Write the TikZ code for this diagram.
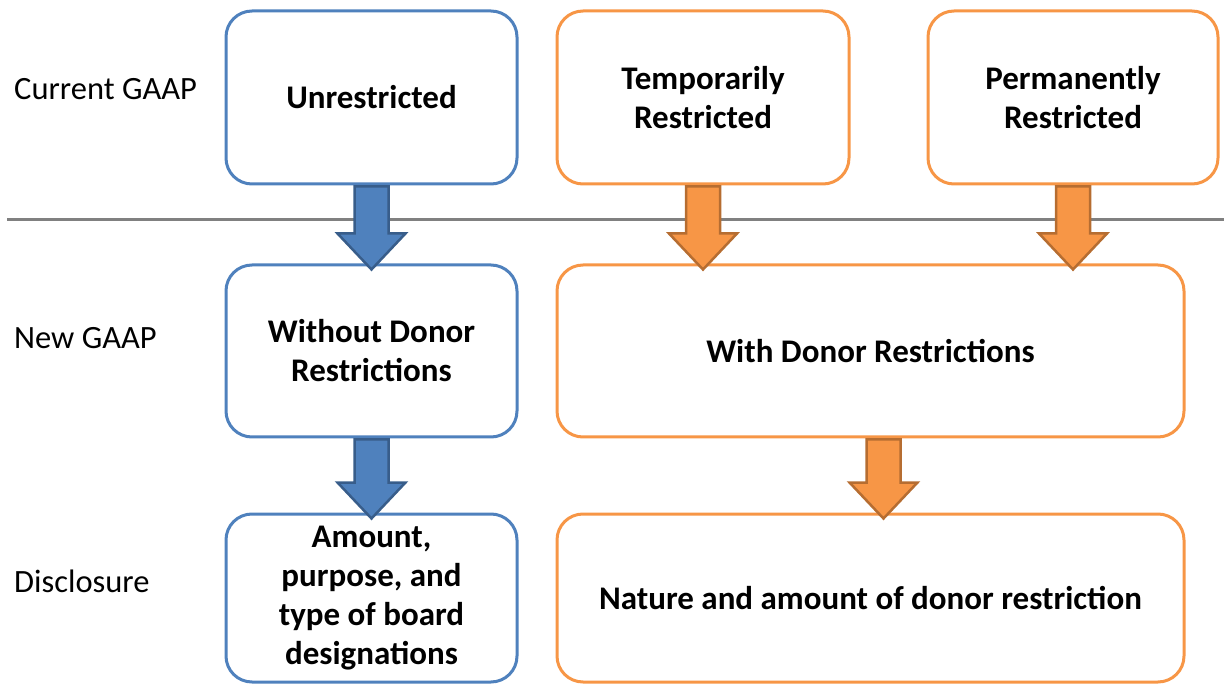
\documentclass[tikz,border=0pt]{standalone}
\usepackage{fontspec}
\setmainfont{Carlito}
\usetikzlibrary{calc}
\definecolor{bbord}{HTML}{4F81BD}
\definecolor{bfill}{HTML}{4F81BD}
\definecolor{bline}{HTML}{385D8A}
\definecolor{obord}{HTML}{F79646}
\definecolor{ofill}{HTML}{F79646}
\definecolor{oline}{HTML}{B66D31}
\tikzset{
  box/.style={draw, line width=3pt, rounded corners=26pt, fill=white, align=center,
    font=\fontsize{33}{39}\selectfont\bfseries, inner sep=0pt},
  bluebox/.style={box, draw=bbord},
  orangebox/.style={box, draw=obord},
  side/.style={anchor=west, font=\fontsize{32.5}{38}\selectfont, inner sep=0pt},
  barr/.style={fill=bfill, draw=bline, line width=2.5pt, line join=miter},
  oarr/.style={fill=ofill, draw=oline, line width=2.5pt, line join=miter}
}
% #1 style, #2 source node, #3 target node, #4 horizontal shift
\newcommand\barrow[4]{%
  \filldraw[#1] let \p1=($(#2.south)+(#4,0)$), \p2=(#3.north) in
    (\x1-17pt,\y1-1pt) -- (\x1+17pt,\y1-1pt) -- (\x1+17pt,\y2+30pt) -- (\x1+34pt,\y2+30pt)
    -- (\x1,\y2-6pt) -- (\x1-34pt,\y2+30pt) -- (\x1-17pt,\y2+30pt) -- cycle;}
\begin{document}
\begin{tikzpicture}[x=1pt,y=-1pt]
\useasboundingbox (0,0) rectangle (1224,684);
\coordinate (L1) at (7,220);
\coordinate (L2) at (1224,220);
\draw[line width=3pt, color={rgb,255:red,128;green,128;blue,128}] (L1) -- (L2);
\node[side] (cur) at (14,89) {Current GAAP};
\node[side] (new) at (14,338) {New GAAP};
\node[side] (dis) at (14,581) {Disclosure};
\node[bluebox, minimum width=291pt, minimum height=173pt] (unr) at (371.5,97.5) {Unrestricted};
\node[orangebox, minimum width=292pt, minimum height=173pt] (tmp) at (703,97.5) {Temporarily\\Restricted};
\node[orangebox, minimum width=290pt, minimum height=173pt] (per) at (1073,97.5) {Permanently\\Restricted};
\node[bluebox, minimum width=291pt, minimum height=172pt] (wo) at (371.5,351) {Without Donor\\Restrictions};
\node[orangebox, minimum width=627pt, minimum height=172pt] (wi) at (870.5,351) {With Donor Restrictions};
\node[bluebox, minimum width=291pt, minimum height=168pt] (amt) at (371.5,598) {Amount,\\purpose, and\\type of board\\designations};
\node[orangebox, minimum width=627pt, minimum height=168pt] (nat) at (870.5,598) {Nature and amount of donor restriction};
\barrow{barr}{unr}{wo}{0}
\barrow{oarr}{tmp}{wi}{0}
\barrow{oarr}{per}{wi}{0}
\barrow{barr}{wo}{amt}{0}
\barrow{oarr}{wi}{nat}{13}
\end{tikzpicture}
\end{document}
